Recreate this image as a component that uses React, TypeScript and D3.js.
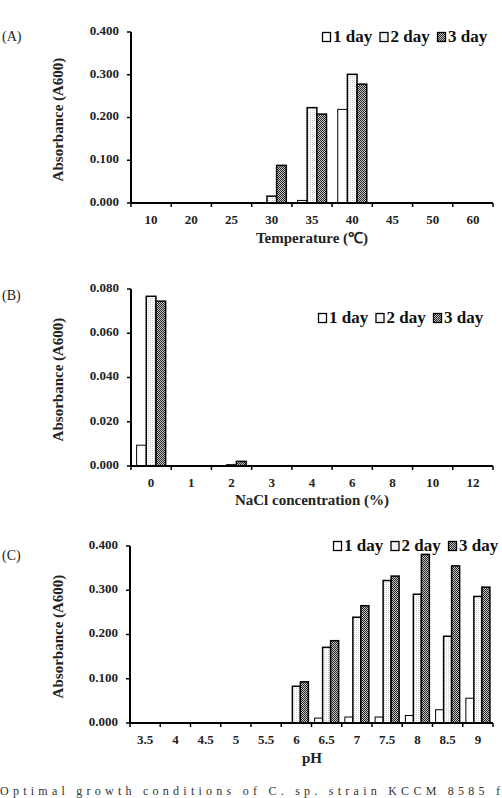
import * as d3 from 'd3';

const seriesNames = ['1 day', '2 day', '3 day'];

// (A) temperature
const tempCategories = ['10', '20', '25', '30', '35', '40', '45', '50', '60'];
const temp1Day = [0, 0, 0, 0, 0.006, 0.219, 0, 0, 0];
const temp2Day = [0, 0, 0, 0.016, 0.223, 0.301, 0, 0, 0];
const temp3Day = [0, 0, 0, 0.088, 0.208, 0.278, 0, 0, 0];
const tempTicks = [0, 0.1, 0.2, 0.3, 0.4];

// (B) NaCl
const naclCategories = ['0', '1', '2', '3', '4', '6', '8', '10', '12'];
const nacl1Day = [0.0094, 0, 0, 0, 0, 0, 0, 0, 0];
const nacl2Day = [0.0767, 0, 0.0005, 0, 0, 0, 0, 0, 0];
const nacl3Day = [0.0745, 0, 0.0021, 0, 0, 0, 0, 0, 0];
const naclTicks = [0, 0.02, 0.04, 0.06, 0.08];

// (C) pH
const phCategories = ['3.5', '4', '4.5', '5', '5.5', '6', '6.5', '7', '7.5', '8', '8.5', '9'];
const ph1Day = [0, 0, 0, 0, 0, 0.001, 0.011, 0.0135, 0.0135, 0.017, 0.030, 0.056];
const ph2Day = [0, 0, 0, 0, 0, 0.083, 0.171, 0.239, 0.322, 0.291, 0.196, 0.286];
const ph3Day = [0, 0, 0, 0, 0, 0.093, 0.186, 0.265, 0.332, 0.381, 0.355, 0.307];
const phTicks = [0, 0.1, 0.2, 0.3, 0.4];

const fills = ['#ffffff', 'url(#dots)', 'url(#checker)'];
const serif = '"Liberation Serif", "Times New Roman", serif';

type PanelProps = {
  tag: string;
  tagY: number;
  categories: string[];
  series: number[][];
  ticks: number[];
  yMax: number;
  x0: number;
  x1: number;
  yTop: number;
  yBottom: number;
  groupPad: number;
  xTitle: string;
  xTitleY: number;
  legendX: number;
  legendY: number;
};

function Panel(p: PanelProps) {
  const x = d3.scaleBand<string>().domain(p.categories).range([p.x0, p.x1]).padding(0);
  const inner = d3.scaleBand<string>().domain(seriesNames).range([0, x.bandwidth()])
    .paddingInner(0).paddingOuter(p.groupPad);
  const y = d3.scaleLinear().domain([0, p.yMax]).range([p.yBottom, p.yTop]);
  const fmt = d3.format('.3f');
  const boundaries = p.categories.map(c => x(c)!).concat([p.x1]);

  return (
    <g fontFamily={serif}>
      <text x={2} y={p.tagY} fontSize={14} dominantBaseline="middle" fill="#222">{p.tag}</text>

      {p.series.map((vals, si) => (
        <g key={si}>
          {vals.map((v, ci) => v > 0 && (
            <rect key={ci}
              x={x(p.categories[ci])! + inner(seriesNames[si])!}
              y={y(v)}
              width={inner.bandwidth()}
              height={p.yBottom - y(v)}
              fill={fills[si]}
              stroke="#000"
              strokeWidth={si === 0 ? 1 : 1.5} />
          ))}
        </g>
      ))}

      {/* y axis */}
      <line x1={p.x0} x2={p.x0} y1={p.yTop} y2={p.yBottom} stroke="#000" strokeWidth={2} />
      {p.ticks.map(t => (
        <g key={t}>
          <line x1={p.x0 - 4} x2={p.x0} y1={y(t)} y2={y(t)} stroke="#000" strokeWidth={1.5} />
          <text x={p.x0 - 12} y={y(t)} textAnchor="end" dominantBaseline="middle"
            fontSize={13} fontWeight="bold" fill="#222">{fmt(t)}</text>
        </g>
      ))}
      <text transform={`translate(60,${(p.yTop + p.yBottom) / 2 + 2}) rotate(-90)`}
        textAnchor="middle" dominantBaseline="middle" fontSize={15} fontWeight="bold" fill="#222">
        Absorbance (A600)
      </text>

      {/* x axis */}
      <line x1={p.x0} x2={p.x1} y1={p.yBottom} y2={p.yBottom} stroke="#000" strokeWidth={2} />
      {boundaries.map((b, i) => (
        <line key={i} x1={b} x2={b} y1={p.yBottom} y2={p.yBottom + 4} stroke="#000" strokeWidth={1.5} />
      ))}
      {p.categories.map(c => (
        <text key={c} x={x(c)! + x.bandwidth() / 2} y={p.yBottom + 18} textAnchor="middle"
          dominantBaseline="middle" fontSize={13} fontWeight="bold" fill="#222">{c}</text>
      ))}
      <text x={312} y={p.xTitleY} textAnchor="middle" dominantBaseline="middle"
        fontSize={15} fontWeight="bold" fill="#222">{p.xTitle}</text>

      {/* legend */}
      {seriesNames.map((s, i) => (
        <g key={s} transform={`translate(${p.legendX + i * 57.5},${p.legendY})`}>
          <rect x={0.5} y={-4.5} width={8} height={9} fill={fills[i]} stroke="#000" strokeWidth={1.3} />
          <text x={11} y={1} dominantBaseline="middle" fontSize={17} fontWeight="bold" fill="#111">{s}</text>
        </g>
      ))}
    </g>
  );
}

export default function App() {
  return (
    <svg width={502} height={798} style={{ position: 'absolute', left: 0, top: 0, background: '#fff' }}>
      <defs>
        <pattern id="dots" width={2} height={2} patternUnits="userSpaceOnUse">
          <rect width={2} height={2} fill="#fff" />
          <rect width={1} height={1} fill="#cfcfcf" />
        </pattern>
        <pattern id="checker" width={2} height={2} patternUnits="userSpaceOnUse">
          <rect width={2} height={2} fill="#c8c8c8" />
          <rect width={1} height={1} fill="#222" />
          <rect x={1} y={1} width={1} height={1} fill="#222" />
        </pattern>
      </defs>
      <rect width={502} height={798} fill="#fff" />

      <Panel tag="(A)" tagY={38} categories={tempCategories} series={[temp1Day, temp2Day, temp3Day]}
        ticks={tempTicks} yMax={0.4} x0={131} x1={493} yTop={32} yBottom={203} groupPad={0.58}
        xTitle="Temperature (℃)" xTitleY={240} legendX={322} legendY={37} />

      <Panel tag="(B)" tagY={297} categories={naclCategories} series={[nacl1Day, nacl2Day, nacl3Day]}
        ticks={naclTicks} yMax={0.08} x0={131} x1={493} yTop={289} yBottom={466} groupPad={0.58}
        xTitle="NaCl concentration (%)" xTitleY={502} legendX={318} legendY={318} />

      <Panel tag="(C)" tagY={557} categories={phCategories} series={[ph1Day, ph2Day, ph3Day]}
        ticks={phTicks} yMax={0.4} x0={130} x1={493} yTop={546} yBottom={723} groupPad={0.39}
        xTitle="pH" xTitleY={760} legendX={333} legendY={546} />

      <text x={0} y={795} fontFamily={serif} fontSize={12} fill="#333" textLength={500}
        lengthAdjust="spacing">Optimal growth conditions of C. sp. strain KCCM 8585 f</text>
    </svg>
  );
}
